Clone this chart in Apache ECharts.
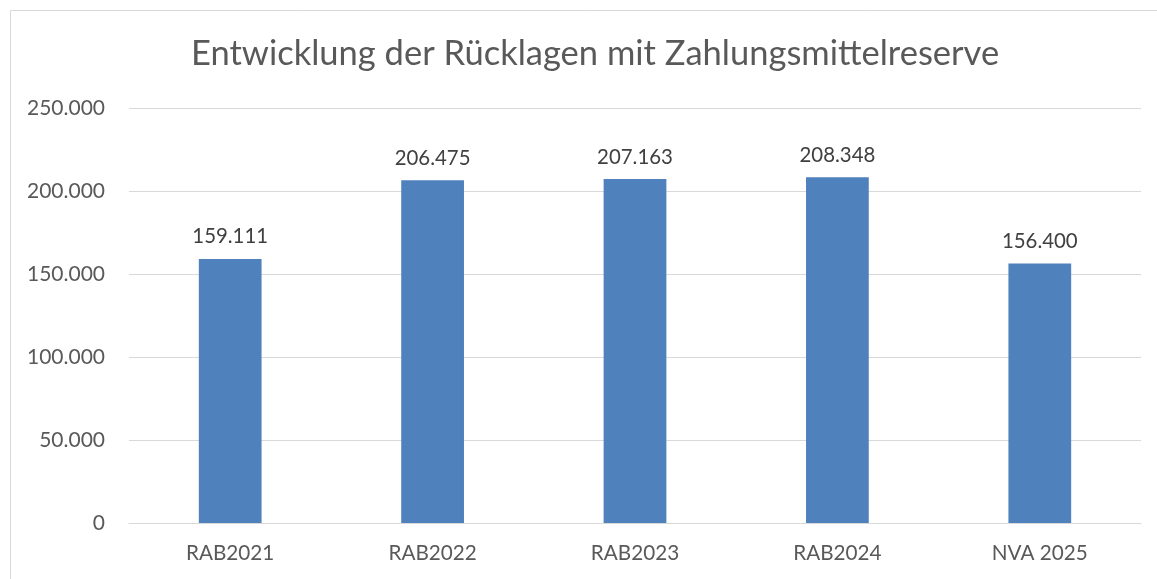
<!DOCTYPE html>
<html><head><meta charset="utf-8">
<script src="https://cdn.jsdelivr.net/npm/echarts@6/dist/echarts.min.js"></script>
<style>html,body{margin:0;padding:0;background:#fff}#c{width:1157px;height:579px}</style>
</head><body><div id="c"></div>
<script>
const categories = ["RAB2021", "RAB2022", "RAB2023", "RAB2024", "NVA 2025"];
const values = [159111, 206475, 207163, 208348, 156400];
const yTicks = [0, 50000, 100000, 150000, 200000, 250000];
const title = "Entwicklung der Rücklagen mit Zahlungsmittelreserve";

function fmt(v){ return v === 0 ? "0" : String(v).replace(/\B(?=(\d{3})+(?!\d))/g, "."); }

const chart = echarts.init(document.getElementById('c'), null, {renderer:'canvas'});
const font = "Lato, 'Open Sans', sans-serif";
chart.setOption({
  animation:false,
  textStyle:{fontFamily:font},
  title:{text:title,left:186,top:31,textStyle:{fontFamily:font,fontSize:34.5,fontWeight:'normal',color:'#595959'}},
  graphic:[{type:'rect',shape:{x:10.5,y:10.5,width:1200,height:700},style:{fill:'none',stroke:'#d9d9d9',lineWidth:1},silent:true}],
  grid:{left:129,right:16,top:108,bottom:56,containLabel:false},
  xAxis:{type:'category',data:categories,
    axisLine:{show:true,lineStyle:{color:'#d9d9d9',width:1}},axisTick:{show:false},
    axisLabel:{fontSize:20.7,color:'#595959',margin:20,fontFamily:font}},
  yAxis:{type:'value',min:yTicks[0],max:yTicks[yTicks.length-1],interval:50000,
    axisLine:{show:false},axisTick:{show:false},
    splitLine:{lineStyle:{color:'#d9d9d9',width:1}},
    axisLabel:{fontSize:21,color:'#595959',margin:24,formatter:fmt,fontFamily:font}},
  series:[{type:'bar',data:values,barWidth:'31%',itemStyle:{color:'#4F81BD'},
    label:{show:true,position:'top',distance:12,fontSize:20.4,color:'#404040',formatter:p=>fmt(p.value),fontFamily:font}}]
});
</script></body></html>
